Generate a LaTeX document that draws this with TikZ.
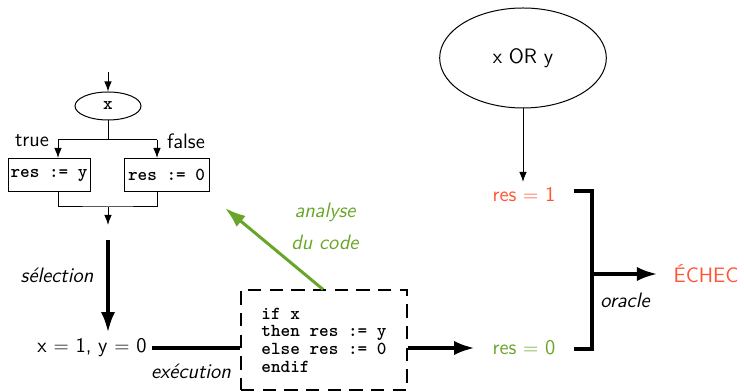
\documentclass[tikz,border=0pt]{standalone}
\usepackage{fontspec}
\usetikzlibrary{arrows.meta,positioning,shapes.geometric}
\definecolor{rouge}{RGB}{255,85,50}
\definecolor{vert}{RGB}{105,165,40}

\begin{document}
\begin{tikzpicture}[x=0.6pt,y=0.6pt,
    every node/.style={font=\sffamily\fontsize{12.5}{15}\selectfont},
    code/.style={font=\ttfamily\bfseries\fontsize{11}{10.6}\selectfont},
    instr/.style={draw,code,line width=0.6pt,minimum height=19.8pt,inner sep=1pt},
    legende/.style={font=\sffamily\itshape\fontsize{12.5}{15}\selectfont},
    flow/.style={line width=0.6pt,-{Latex[length=6pt,width=4.5pt]}},
    big/.style={line width=2.4pt},
    bigarrow/.style={big,-{Latex[length=12.5pt,width=8.5pt]}}]
\useasboundingbox (0,0) rectangle (744,392);

% petit organigramme du if
\node[draw,ellipse,code,line width=0.6pt,minimum width=39.6pt,
  minimum height=16.8pt,inner sep=0pt] (cond) at (108,286) {x};
\coordinate (entree) at (108,320);
\draw[flow] (entree) -- (cond);
\node[instr,minimum width=49.2pt] (alors) at (49,217) {res := y};
\node[instr,minimum width=51pt] (sinon) at (166.5,217) {res := 0};
\coordinate (gauche) at (58,252);
\coordinate (droite) at (157,252);
\draw[line width=0.6pt] (cond) -- (cond |- gauche) (gauche) -- (droite);
\draw[flow] (gauche) -- (gauche |- alors.north);
\draw[flow] (droite) -- (droite |- sinon.north);
\node (vrai) at (32,251) {true};
\node (faux) at (186,251) {false};
\coordinate (bas) at (108,185);
\coordinate (sortie) at (108,167);
\draw[line width=0.6pt] (gauche |- alors.south) |- (bas) -| (droite |- sinon.south);
\draw[flow] (bas) -- (sortie);

% selection puis execution du programme
\coordinate (haut) at (108,152);
\node (valeurs) at (92,44) {x $=$ 1, y $=$ 0};
\draw[bigarrow] (haut) -- (haut |- valeurs.north);
\node[legende] (sel) at (57,117) {sélection};
\node[draw,dashed,dash pattern=on 8pt off 5pt,line width=0.7pt,code,align=left,
  minimum width=99.6pt,minimum height=60pt] (prog) at (324,52)
  {if x\\then res := y\\else res := 0\\endif};
\draw[big] (valeurs.east) -- (valeurs -| prog.west);
\node[legende] (exec) at (191,21) {exécution};

% analyse du code
\coordinate (cible) at (225,184);
\draw[bigarrow,vert,line width=1.8pt] (323,0 |- prog.north) -- (cible);
\node[legende,text=vert] (ana) at (325,180) {analyse};
\node[legende,text=vert] (duc) at (325,150) {du code};

% oracle
\node[draw,ellipse,line width=0.6pt,minimum width=100pt,minimum height=60pt]
  (ou) at (523,334) {x OR y};
\node[text=rouge] (res1) at (524,197) {res $=$ 1};
\node[text=vert] (res0) at (524,44) {res $=$ 0};
\draw[flow] (ou) -- (ou |- res1.north);
\draw[bigarrow,shorten >=7pt] (prog.east |- res0) -- (res0.west);
\coordinate (o1) at (574,201);
\coordinate (o0) at (574,43);
\coordinate (milieu) at (592,118);
\draw[big] (o1) -| (milieu) |- (o0);
\node[text=rouge] (echec) at (706,118) {ÉCHEC};
\draw[bigarrow,shorten >=6pt] (milieu) -- (echec.west);
\node[legende] (orac) at (625,92) {oracle};
\end{tikzpicture}
\end{document}
